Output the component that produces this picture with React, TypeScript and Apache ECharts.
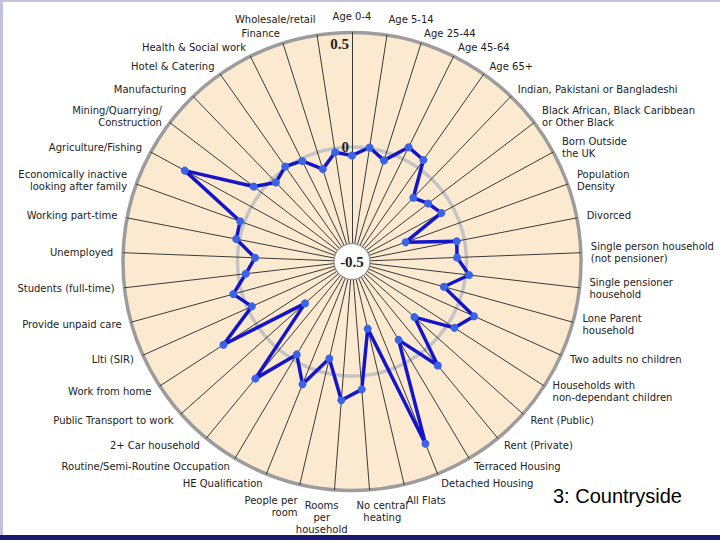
import React, { useEffect, useRef } from "react";
import * as echarts from "echarts";

// Indicators listed clockwise starting at the top
const categories: string[] = [
  "Age 0-4",
  "Age 5-14",
  "Age 25-44",
  "Age 45-64",
  "Age 65+",
  "Indian, Pakistani or Bangladeshi",
  "Black African, Black Caribbean\nor Other Black",
  "Born Outside\nthe UK",
  "Population\nDensity",
  "Divorced",
  "Single person household\n(not pensioner)",
  "Single pensioner\nhousehold",
  "Lone Parent\nhousehold",
  "Two adults no children",
  "Households with\nnon-dependant children",
  "Rent (Public)",
  "Rent (Private)",
  "Terraced Housing",
  "Detached Housing",
  "All Flats",
  "No central\nheating",
  "Rooms\nper\nhousehold",
  "People per\nroom",
  "HE Qualification",
  "Routine/Semi-Routine Occupation",
  "2+ Car household",
  "Public Transport to work",
  "Work from home",
  "Llti (SIR)",
  "Provide unpaid care",
  "Students (full-time)",
  "Unemployed",
  "Working part-time",
  "Economically inactive\nlooking after family",
  "Agriculture/Fishing",
  "Mining/Quarrying/\nConstruction",
  "Manufacturing",
  "Hotel & Catering",
  "Health & Social work",
  "Finance",
  "Wholesale/retail",
];

const countrysideValues: number[] = [
  -0.037, 0.004, -0.037, 0.057, 0.042, -0.114, -0.082, -0.056, -0.251, -0.034,
  -0.041, 0.015, -0.084, 0.084, 0.033, -0.135, 0.089, -0.102, 0.358, -0.199,
  0.06, 0.108, -0.065, 0.078, -0.028, 0.163, -0.225, 0.169, -0.021, 0.038,
  -0.033, -0.076, 0.015, 0.019, 0.331, 0.04, -0.021, 0.007, -0.01, -0.077,
  -0.017,
];

const tickValues: number[] = [-0.5, 0, 0.5];
const tickLabels: string[] = ["-0.5", "0", "0.5"];

const seriesTitle = "3: Countryside";

export default function App() {
  const ref = useRef<HTMLDivElement>(null);

  useEffect(() => {
    if (!ref.current) return;
    const chart = echarts.init(ref.current, undefined, { renderer: "svg" });

    const CX = 352;
    const CY = 261.5;
    const R = 229;
    const GAP = 10;
    const MIN = tickValues[0];
    const MAX = tickValues[tickValues.length - 1];
    const N = categories.length;

    // ECharts radar runs counter-clockwise; reverse to run clockwise
    const order = [0, ...Array.from({ length: N - 1 }, (_, k) => N - 1 - k)];

    const labelFont = '"DejaVu Sans", Verdana, sans-serif';
    const nameTexts = categories.map((name, i) => {
      const a = (i * 2 * Math.PI) / N;
      const s = Math.sin(a);
      const c = Math.cos(a);
      const rr = R + GAP;
      const nearVertical = Math.abs(s) < 0.1;
      const align = nearVertical ? "center" : s > 0 ? "left" : "right";
      const vAlign = c > 0.98 ? "bottom" : c < -0.95 ? "top" : "middle";
      const dx = nearVertical && Math.abs(s) > 0.01 ? Math.sign(s) * 12 : 0;
      return {
        type: "text",
        z: 50,
        x: CX + rr * s + dx,
        y: CY - rr * c,
        style: {
          text: name,
          fontSize: 10,
          fontFamily: labelFont,
          lineHeight: 12,
          fill: "#222",
          align,
          verticalAlign: vAlign,
        },
      };
    });

    const tickTexts = tickValues.map((t, k) => {
      const r = ((t - MIN) / (MAX - MIN)) * R;
      const isCenter = r === 0;
      const isOuter = t === MAX;
      return {
        type: "text",
        z: 60,
        x: isCenter ? CX : CX - 3,
        y: CY - r + (isOuter ? 11 : 0),
        style: {
          text: tickLabels[k],
          fontSize: 15,
          fontWeight: "bold",
          fontFamily: '"Liberation Serif", "DejaVu Serif", serif',
          fill: "#222",
          align: isCenter ? "center" : "right",
          verticalAlign: "middle",
        },
      };
    });

    chart.setOption({
      animation: false,
      backgroundColor: "#ffffff",
      radar: {
        center: [CX, CY],
        radius: R,
        startAngle: 90,
        shape: "circle",
        splitNumber: 2,
        indicator: order.map((i) => ({ name: categories[i], min: MIN, max: MAX })),
        axisName: { show: false },
        axisTick: { show: false },
        axisLabel: { show: false },
        axisLine: { lineStyle: { color: "#3a3a3a", width: 1 } },
        splitLine: {
          lineStyle: {
            color: ["rgba(0,0,0,0)", "#c4c4c4", "#9c9c9c"],
            width: 3.5,
          },
        },
        splitArea: {
          show: true,
          areaStyle: { color: ["#fbeacf", "#fbeacf"] },
        },
      },
      series: [
        {
          type: "radar",
          name: seriesTitle,
          symbol: "circle",
          symbolSize: 8,
          lineStyle: { color: "#1414c8", width: 3.5 },
          itemStyle: { color: "#3a64e4" },
          data: [{ value: order.map((i) => countrysideValues[i]), name: seriesTitle }],
        },
      ],
      graphic: [
        { type: "rect", z: 5, shape: { x: 0, y: 0, width: 720, height: 2 }, style: { fill: "#c2c2dc" } },
        { type: "rect", z: 5, shape: { x: 0, y: 0, width: 3, height: 540 }, style: { fill: "#c2c2dc" } },
        { type: "rect", z: 5, shape: { x: 0, y: 535, width: 720, height: 5 }, style: { fill: "#1a1a70" } },
        {
          type: "circle",
          z: 40,
          shape: { cx: CX, cy: CY, r: 18 },
          style: { fill: "#ffffff", stroke: "#8f8f8f", lineWidth: 1.2 },
        },
        ...tickTexts,
        ...nameTexts,
        {
          type: "text",
          z: 60,
          x: 553,
          y: 496,
          style: {
            text: seriesTitle,
            fontSize: 20,
            fontFamily: '"Liberation Sans", Arial, sans-serif',
            fill: "#000",
            align: "left",
            verticalAlign: "middle",
          },
        },
      ],
    });

    return () => chart.dispose();
  }, []);

  return (
    <div
      ref={ref}
      style={{ position: "absolute", left: 0, top: 0, width: 720, height: 540 }}
    />
  );
}
